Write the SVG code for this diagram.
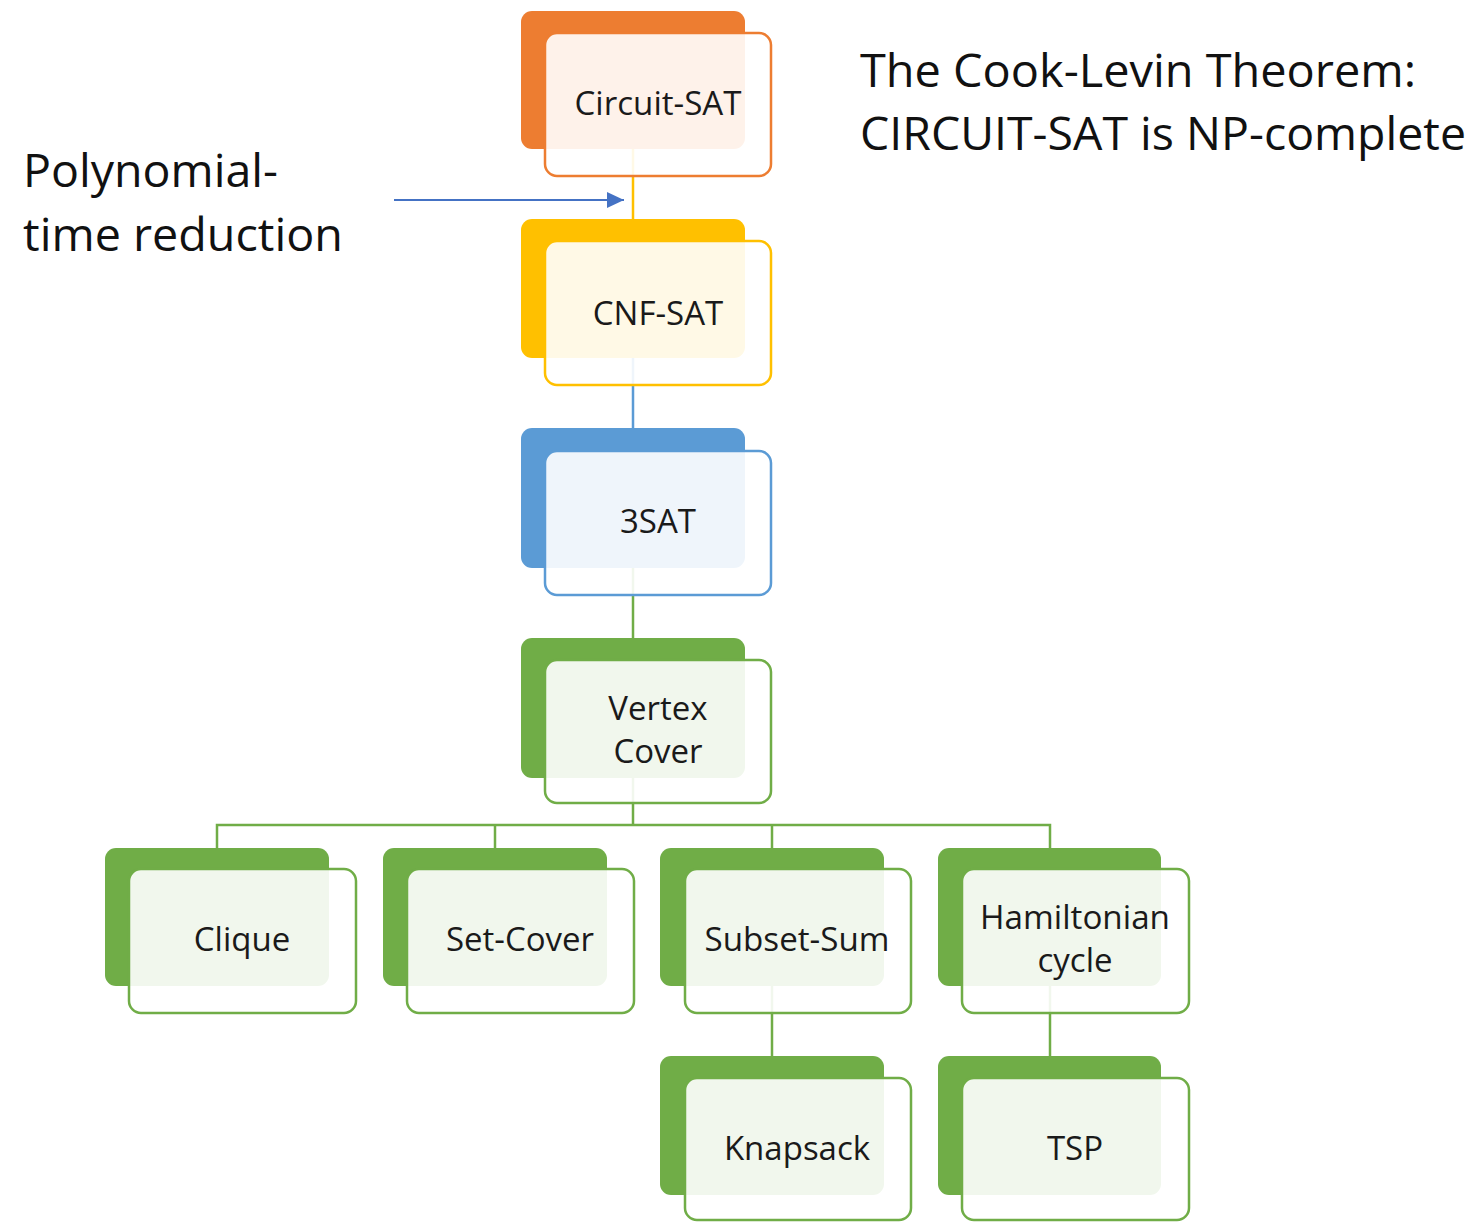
<svg xmlns="http://www.w3.org/2000/svg" width="1473" height="1222" viewBox="0 0 1473 1222">
<defs>
<style>
.back{stroke:none}
.front{fill:#ffffff;fill-opacity:0.9;stroke-width:2.5}
.lbl{font-family:"Open Sans","Noto Sans",sans-serif;font-size:33px;fill:#1a1a1a;text-anchor:middle}
.big{font-family:"Open Sans","Noto Sans",sans-serif;font-size:46px;fill:#111}
.con{fill:none;stroke-width:2.5}
</style>
<marker id="ah" viewBox="0 0 17 16" refX="17" refY="8" markerWidth="17" markerHeight="16" markerUnits="userSpaceOnUse" orient="auto">
<path d="M0,0 L17,8 L0,16 z" fill="#4472C4"/>
</marker>
</defs>
<rect width="1473" height="1222" fill="#ffffff"/>
<g id="connectors">
<line class="con" x1="633" y1="149" x2="633" y2="219" stroke="#FFC000"/>
<line class="con" x1="633" y1="358" x2="633" y2="428" stroke="#5B9BD5"/>
<line class="con" x1="633" y1="568" x2="633" y2="638" stroke="#70AD47"/>
<polyline class="con" points="633,778 633,825" stroke="#70AD47"/>
<polyline class="con" points="217,848 217,825 1050,825 1050,848" stroke="#70AD47"/>
<line class="con" x1="495" y1="825" x2="495" y2="848" stroke="#70AD47"/>
<line class="con" x1="772" y1="825" x2="772" y2="848" stroke="#70AD47"/>
<line class="con" x1="772" y1="986" x2="772" y2="1056" stroke="#70AD47"/>
<line class="con" x1="1050" y1="986" x2="1050" y2="1056" stroke="#70AD47"/>
<line x1="394" y1="200" x2="624" y2="200" stroke="#4472C4" stroke-width="1.8" marker-end="url(#ah)"/>
</g>
<g id="circuit-sat">
<rect class="back" x="521" y="11" width="224" height="138" rx="11" fill="#ED7D31"/>
<rect class="front" x="545" y="33" width="226" height="143" rx="12" stroke="#ED7D31"/>
<text class="lbl" x="658" y="115" textLength="167" lengthAdjust="spacingAndGlyphs">Circuit-SAT</text>
</g>
<g id="cnf-sat">
<rect class="back" x="521" y="219" width="224" height="139" rx="11" fill="#FFC000"/>
<rect class="front" x="545" y="241" width="226" height="144" rx="12" stroke="#FFC000"/>
<text class="lbl" x="658" y="325">CNF-SAT</text>
</g>
<g id="3sat">
<rect class="back" x="521" y="428" width="224" height="140" rx="11" fill="#5B9BD5"/>
<rect class="front" x="545" y="451" width="226" height="144" rx="12" stroke="#5B9BD5"/>
<text class="lbl" x="658" y="533">3SAT</text>
</g>
<g id="vertex-cover">
<rect class="back" x="521" y="638" width="224" height="140" rx="11" fill="#70AD47"/>
<rect class="front" x="545" y="660" width="226" height="143" rx="12" stroke="#70AD47"/>
<text class="lbl" x="658" y="720">Vertex</text>
<text class="lbl" x="658" y="763">Cover</text>
</g>
<g id="clique">
<rect class="back" x="105" y="848" width="224" height="138" rx="11" fill="#70AD47"/>
<rect class="front" x="129" y="869" width="227" height="144" rx="12" stroke="#70AD47"/>
<text class="lbl" x="242" y="951">Clique</text>
</g>
<g id="set-cover">
<rect class="back" x="383" y="848" width="224" height="138" rx="11" fill="#70AD47"/>
<rect class="front" x="407" y="869" width="227" height="144" rx="12" stroke="#70AD47"/>
<text class="lbl" x="520" y="951">Set-Cover</text>
</g>
<g id="subset-sum">
<rect class="back" x="660" y="848" width="224" height="138" rx="11" fill="#70AD47"/>
<rect class="front" x="685" y="869" width="226" height="144" rx="12" stroke="#70AD47"/>
<text class="lbl" x="797" y="951" textLength="185" lengthAdjust="spacingAndGlyphs">Subset-Sum</text>
</g>
<g id="hamiltonian-cycle">
<rect class="back" x="938" y="848" width="223" height="138" rx="11" fill="#70AD47"/>
<rect class="front" x="962" y="869" width="227" height="144" rx="12" stroke="#70AD47"/>
<text class="lbl" x="1075" y="929" textLength="190" lengthAdjust="spacingAndGlyphs">Hamiltonian</text>
<text class="lbl" x="1075" y="972">cycle</text>
</g>
<g id="knapsack">
<rect class="back" x="660" y="1056" width="224" height="139" rx="11" fill="#70AD47"/>
<rect class="front" x="685" y="1078" width="226" height="142" rx="12" stroke="#70AD47"/>
<text class="lbl" x="797" y="1160">Knapsack</text>
</g>
<g id="tsp">
<rect class="back" x="938" y="1056" width="223" height="139" rx="11" fill="#70AD47"/>
<rect class="front" x="962" y="1078" width="227" height="142" rx="12" stroke="#70AD47"/>
<text class="lbl" x="1075" y="1160">TSP</text>
</g>
<g id="annotation-reduction">
<text class="big" x="23" y="187" textLength="255" lengthAdjust="spacingAndGlyphs">Polynomial-</text>
<text class="big" x="23" y="251" textLength="320" lengthAdjust="spacingAndGlyphs">time reduction</text>
</g>
<g id="title">
<text class="big" x="860" y="87" textLength="556" lengthAdjust="spacingAndGlyphs">The Cook-Levin Theorem:</text>
<text class="big" x="860" y="150" textLength="606" lengthAdjust="spacingAndGlyphs">CIRCUIT-SAT is NP-complete</text>
</g>
</svg>
